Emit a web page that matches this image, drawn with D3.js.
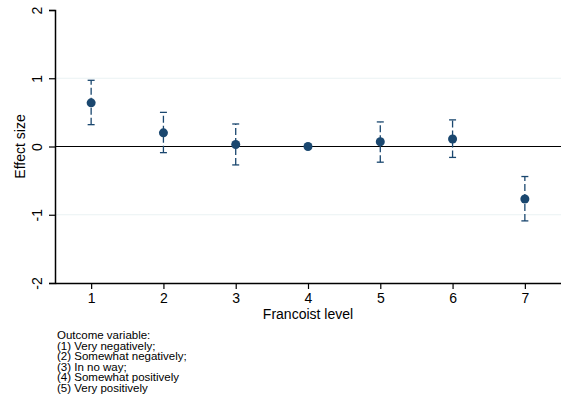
<!DOCTYPE html>
<html>
<head>
<meta charset="utf-8">
<script src="https://cdn.jsdelivr.net/npm/d3@7"></script>
<style>
  html, body { margin: 0; padding: 0; background: #fff; }
  svg { display: block; }
</style>
</head>
<body>
<svg id="chart" width="561" height="402" font-family="Liberation Sans, Arial, sans-serif"></svg>
<script>
const levels = [1, 2, 3, 4, 5, 6, 7];
const estimates = [0.64, 0.20, 0.03, 0.00, 0.07, 0.11, -0.77];
const lower = [0.32, -0.09, -0.27, null, -0.23, -0.16, -1.09];
const upper = [0.97, 0.50, 0.33, null, 0.36, 0.39, -0.44];
const yTicks = [-2, -1, 0, 1, 2];
const noteLines = [
  "Outcome variable:",
  "(1) Very negatively;",
  "(2) Somewhat negatively;",
  "(3) In no way;",
  "(4) Somewhat positively",
  "(5) Very positively"
];

const data = levels.map((l, i) => ({ level: l, est: estimates[i], lo: lower[i], hi: upper[i] }));

const svg = d3.select('#chart');
const margin = { left: 55, right: 0, top: 10, bottom: 119 };
const width = +svg.attr('width');
const height = +svg.attr('height');
const innerWidth = width - margin.left - margin.right;
const innerHeight = height - margin.top - margin.bottom;
const navy = '#1a476f';
const font = 'Liberation Sans, Arial, sans-serif';

const g = svg.append('g')
  .attr('transform', `translate(${margin.left},${margin.top})`);

const xScale = d3.scaleLinear().domain([0.5, 7.5]).range([0, innerWidth]);
const yScale = d3.scaleLinear().domain([-2, 2]).range([innerHeight, 0]);

// faint gridlines
g.selectAll('.grid').data([-1, 1]).enter().append('line')
  .attr('x1', 0).attr('x2', innerWidth)
  .attr('y1', d => yScale(d)).attr('y2', d => yScale(d))
  .attr('stroke', '#eaf2f3').attr('stroke-width', 1);

// zero reference line
g.append('line')
  .attr('x1', 0).attr('x2', innerWidth)
  .attr('y1', yScale(0)).attr('y2', yScale(0))
  .attr('stroke', '#000').attr('stroke-width', 1.2);

// y axis
const yAxis = d3.axisLeft(yScale).tickValues(yTicks).tickSize(6).tickPadding(4).tickFormat(d => String(d));
const yAxisG = g.append('g').call(yAxis).attr('font-family', font);
yAxisG.select('.domain').attr('stroke-width', 1.5);
yAxisG.selectAll('.tick line').attr('stroke-width', 1.2);
yAxisG.selectAll('.tick text')
  .attr('font-size', 14)
  .attr('fill', '#000')
  .attr('x', 0).attr('dy', 0)
  .attr('transform', 'translate(-13,0) rotate(-90)')
  .attr('text-anchor', 'middle');

yAxisG.append('text')
  .attr('x', -innerHeight / 2)
  .attr('y', -30)
  .attr('transform', 'rotate(-90)')
  .attr('text-anchor', 'middle')
  .attr('font-size', 14)
  .attr('fill', '#000')
  .text('Effect size');

// x axis
const xAxis = d3.axisBottom(xScale).tickValues(levels).tickSize(6).tickPadding(4)
  .tickSizeOuter(0).tickFormat(d => String(d));
const xAxisG = g.append('g').attr('transform', `translate(0,${innerHeight})`).call(xAxis)
  .attr('font-family', font);
xAxisG.select('.domain').attr('stroke-width', 1.5);
xAxisG.selectAll('.tick line').attr('stroke-width', 1.2);
xAxisG.selectAll('.tick text').attr('font-size', 14).attr('fill', '#000');

xAxisG.append('text')
  .attr('x', xScale(4))
  .attr('y', 36)
  .attr('text-anchor', 'middle')
  .attr('font-size', 14)
  .attr('fill', '#000')
  .text('Francoist level');

// confidence intervals
const ci = data.filter(d => d.lo !== null);
g.selectAll('.ci').data(ci).enter().append('line')
  .attr('x1', d => xScale(d.level)).attr('x2', d => xScale(d.level))
  .attr('y1', d => yScale(d.lo)).attr('y2', d => yScale(d.hi))
  .attr('stroke', navy).attr('stroke-width', 1.3)
  .attr('stroke-dasharray', '7 3');

['lo', 'hi'].forEach(k => {
  g.selectAll('.cap-' + k).data(ci).enter().append('line')
    .attr('x1', d => xScale(d.level) - 3.5).attr('x2', d => xScale(d.level) + 3.5)
    .attr('y1', d => yScale(d[k])).attr('y2', d => yScale(d[k]))
    .attr('stroke', navy).attr('stroke-width', 1.3);
});

// point estimates
g.selectAll('.pt').data(data).enter().append('circle')
  .attr('cx', d => xScale(d.level))
  .attr('cy', d => yScale(d.est))
  .attr('r', 4.5)
  .attr('fill', navy);

// note
const note = svg.append('text')
  .attr('x', 57).attr('y', 339)
  .attr('font-size', 11.5)
  .attr('fill', '#000');
note.selectAll('tspan').data(noteLines).enter().append('tspan')
  .attr('x', 57)
  .attr('dy', (d, i) => i === 0 ? 0 : 10.5)
  .text(d => d);
</script>
</body>
</html>
